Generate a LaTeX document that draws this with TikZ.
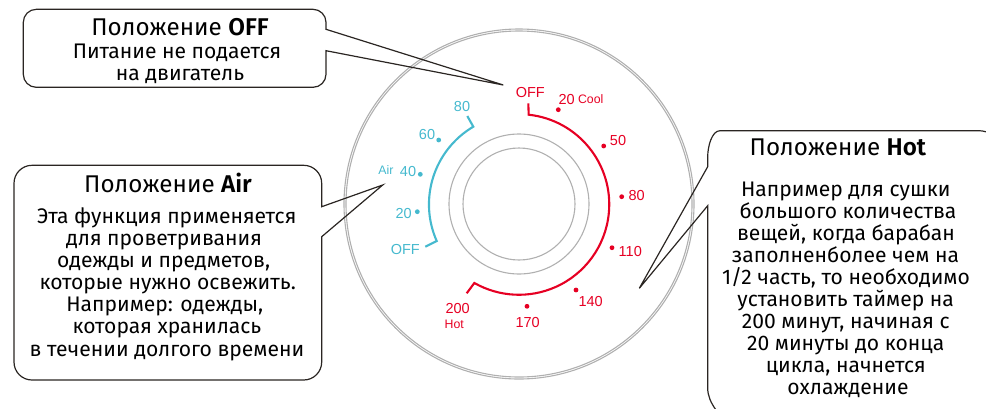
\documentclass[tikz,border=0pt]{standalone}
\usepackage{fontspec}
\setmainfont{Fira Sans}[UprightFont=*,BoldFont=* SemiBold]
\newfontfamily\dialfont{Liberation Sans}
\definecolor{dialred}{HTML}{E60023}
\definecolor{dialblue}{HTML}{45B9CE}
\definecolor{ringgray}{HTML}{B0B0B0}
\definecolor{boxline}{HTML}{2A2522}
\tikzset{
  ring/.style={draw=ringgray,line width=1.1pt},
  callout/.style={draw=boxline,line width=1.2pt,line join=miter},
  bodytext/.style={anchor=base,inner sep=0pt,text=black,font=\fontsize{21.1}{22}\selectfont},
  titletext/.style={anchor=base,inner sep=0pt,text=black,font=\fontsize{24.2}{26}\selectfont},
  redlab/.style={anchor=base,inner sep=0pt,text=dialred,font=\dialfont\fontsize{14.5}{16}\selectfont},
  bluelab/.style={anchor=base,inner sep=0pt,text=dialblue,font=\dialfont\fontsize{14.5}{16}\selectfont},
  redsmall/.style={redlab,font=\dialfont\fontsize{12.3}{14}\selectfont},
  bluesmall/.style={bluelab,font=\dialfont\fontsize{12.3}{14}\selectfont},
  reddot/.style={circle,fill=dialred,inner sep=0pt,minimum size=4.8pt},
  bluedot/.style={circle,fill=dialblue,inner sep=0pt,minimum size=4.8pt},
}
\begin{document}
\begin{tikzpicture}[x=1pt,y=-1pt]
\useasboundingbox (0,0) rectangle (986,408);
\clip (0,0) rectangle (986,408);
\coordinate (c) at (519,204);
% rings
\draw[ring] (c) circle[radius=175];
\draw[ring] (c) circle[radius=173];
\draw[ring] (c) circle[radius=70];
\draw[ring] (c) circle[radius=56];
% scale arcs
\draw[dialred,line width=2.1pt,line join=miter] (528.3,103.3) -- (528.7,114.7)
  arc[start angle=-83.8,end angle=119.6,radius=90.3] -- (466.7,293.3);
\draw[dialblue,line width=2.1pt,line join=miter] (467.3,116) -- (473.3,126.7)
  arc[start angle=-120.6,end angle=-203.9,radius=90.3] -- (425.3,246.7);
% dots
\node[reddot] (d20) at (558.3,109.7) {};
\node[reddot] (d50) at (603.7,146) {};
\node[reddot] (d80) at (621.7,196.7) {};
\node[reddot] (d110) at (612,247.7) {};
\node[reddot] (d140) at (576,290) {};
\node[reddot] (d170) at (527,306.3) {};
\node[bluedot] (d60) at (438.7,140) {};
\node[bluedot] (d40) at (420.3,174.3) {};
\node[bluedot] (db20) at (417.3,211.7) {};
% red labels
\node[redlab] (rOff) at (530.3,97) {OFF};
\node[redlab] (r20) at (566.7,104.3) {20};
\node[redsmall] (rCool) at (590.7,103) {Cool};
\node[redlab] (r50) at (618,145.6) {50};
\node[redlab] (r80) at (636.7,200.3) {80};
\node[redlab] (r110) at (630.3,256.6) {110};
\node[redlab] (r140) at (590.7,306.3) {140};
\node[redlab] (r170) at (527.7,327) {170};
\node[redlab] (r200) at (457.7,313.6) {200};
\node[redsmall] (rHot) at (454.3,328.4) {Hot};
% blue labels
\node[bluelab] (b80) at (462,111.3) {80};
\node[bluelab] (b60) at (427,139.3) {60};
\node[bluelab] (b40) at (408,176.3) {40};
\node[bluesmall] (bAir) at (386,174.1) {Air};
\node[bluelab] (b20) at (403.7,218) {20};
\node[bluelab] (bOff) at (405.3,254.6) {OFF};
% callouts
\coordinate (tipOff) at (503.3,85);
\coordinate (tipAir) at (382.7,185);
\coordinate (tipHot) at (639.3,288.3);
\draw[callout] (36.3,9.3) -- (313,9.3) arc[start angle=-90,end angle=0,radius=13] -- (326,29.3)
  -- (tipOff) -- (326,50.7) -- (326,74.3) arc[start angle=0,end angle=90,radius=13]
  -- (36.3,87.3) arc[start angle=90,end angle=180,radius=13] -- (23.3,22.3)
  arc[start angle=180,end angle=270,radius=13] -- cycle;
\draw[callout] (32,165.3) -- (303.7,165.3) arc[start angle=-90,end angle=0,radius=18] -- (321.7,206.7)
  -- (tipAir) -- (321.7,236.7) -- (321.7,362) arc[start angle=0,end angle=90,radius=18]
  -- (32,380) arc[start angle=90,end angle=180,radius=18] -- (14,183.3)
  arc[start angle=180,end angle=270,radius=18] -- cycle;
\draw[callout] (992,136.7) .. controls (990,132) and (985,130.7) .. (976.7,130.7) -- (720,130.7)
  .. controls (712,130.7) and (707.7,146) .. (707.7,157) -- (707.7,166.7)
  -- (tipHot) -- (707.7,205.7) -- (707.7,388) .. controls (707.7,396) and (711,403) .. (716,410);
% texts
\node[titletext] (offTitle) at (180,35) {Положение \textbf{OFF}};
\node[bodytext] (off1) at (177,58.3) {Питание не подается};
\node[bodytext] (off2) at (180,80) {на двигатель};
\node[titletext] (airTitle) at (168,192.5) {Положение \textbf{Air}};
\node[bodytext] (air1) at (166.7,223.5) {Эта функция применяется};
\node[bodytext] (air2) at (164,245) {для проветривания};
\node[bodytext] (air3) at (163.7,267) {одежды и предметов,};
\node[bodytext] (air4) at (167.7,289.5) {которые нужно освежить.};
\node[bodytext] (air5) at (164.7,311.5) {Например: одежды,};
\node[bodytext] (air6) at (167,333.5) {которая хранилась};
\node[bodytext] (air7) at (167,356) {в течении долгого времени};
\node[titletext] (hotTitle) at (838,155.5) {Положение \textbf{Hot}};
\node[bodytext] (hot1) at (845.8,196) {Например для сушки};
\node[bodytext] (hot2) at (848,218) {большого количества};
\node[bodytext] (hot3) at (846,240) {вещей, когда барабан};
\node[bodytext] (hot4) at (845.5,262) {заполненболее чем на};
\node[bodytext] (hot5) at (846,284) {1/2 часть, то необходимо};
\node[bodytext] (hot6) at (845.7,306) {установить таймер на};
\node[bodytext] (hot7) at (845.8,328) {200 минут, начиная с};
\node[bodytext] (hot8) at (845.7,350) {20 минуты до конца};
\node[bodytext] (hot9) at (845.8,372) {цикла, начнется};
\node[bodytext] (hot10) at (848,394) {охлаждение};
\end{tikzpicture}
\end{document}
